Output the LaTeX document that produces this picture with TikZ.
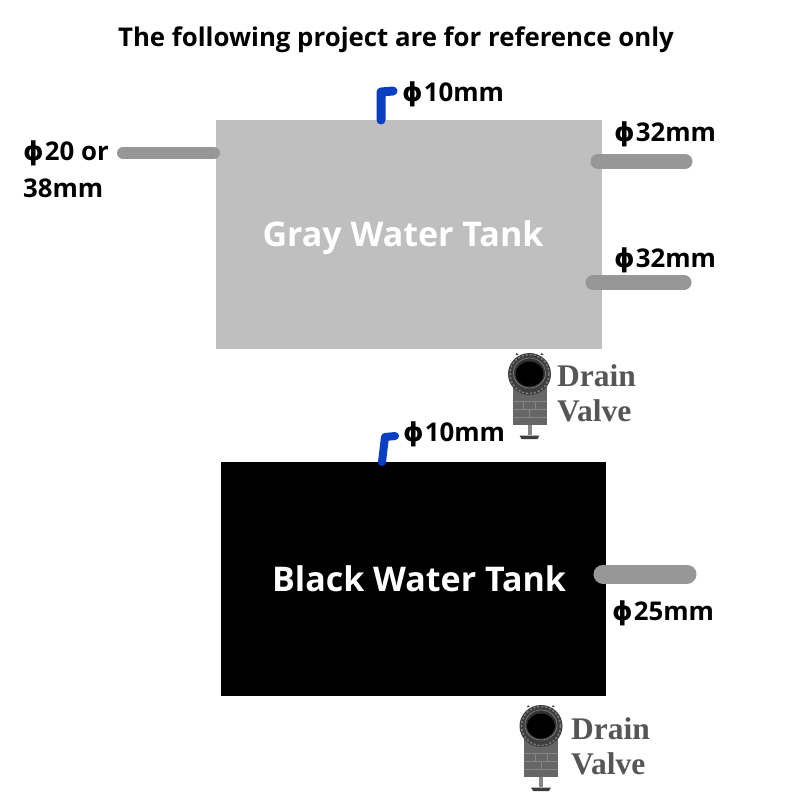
\documentclass[tikz,border=0pt]{standalone}
\usepackage{fontspec}
\setmainfont{Open Sans}
\newfontfamily\serifb{Liberation Serif}
\newfontfamily\phifont{DejaVu Sans}
\newcommand{\phisym}{{\phifont\bfseries\fontsize{26}{30}\selectfont ϕ}\hspace{1pt}}
\tikzset{
  x=1pt,y=-1pt,
  tank/.style={draw=none,minimum width=0pt,anchor=north west,inner sep=0pt},
  lbl/.style={font=\fontsize{25.8}{30}\selectfont\bfseries,text=black,inner sep=0pt},
  tanktxt/.style={font=\fontsize{34}{38}\selectfont\bfseries,text=white,inner sep=0pt},
  dlbl/.style={font=\fontsize{31.5}{35}\serifb\bfseries\selectfont,text=drain,inner sep=0pt,anchor=west},
  thick pipe/.style={line cap=round,draw=pipegray,line width=15pt},
  thin pipe/.style={line cap=round,draw=pipegray,line width=12pt},
  blue pipe/.style={line cap=round,line join=round,draw=pipeblue,line width=9pt},
  pics/valve/.style={code={
    \fill[valvebody] (-17,14) rectangle (17,52);
    \foreach \y in {28,36,44}{\draw[valveline,line width=0.7pt] (-17,\y) -- (17,\y);}
    \draw[valveline,line width=0.7pt] (-6,28) -- (-6,36) (6,28) -- (6,36) (0,36) -- (0,44);
    \fill[valveline] (-2,52) rectangle (2,62);
    \fill[valvedark] (-10,62.5) -- (10,62.5) -- (8,66) -- (-8,66) -- cycle;
    \fill[valvedark] (-14,-18) -- (-13,-20) -- (-11,-18) -- cycle;
    \fill[valvedark] (11,-18) -- (12,-20) -- (14,-18) -- cycle;
    \fill[valvedark] (0,1) ellipse [x radius=21.5,y radius=21];
    \draw[valvering,line width=1.5pt,dash pattern=on 2pt off 2pt] (0,1) circle (19.5);
    \fill[black!80] (0,0) ellipse [x radius=16,y radius=15];
    \draw[valvering,line width=0.7pt] (0,0) ellipse [x radius=16,y radius=15];
    \fill[black] (0,1) ellipse [x radius=14,y radius=12.5];
  }}
}
\definecolor{graytank}{HTML}{BFBFBF}
\definecolor{pipegray}{HTML}{979797}
\definecolor{pipeblue}{HTML}{0A3FC4}
\definecolor{drain}{HTML}{565656}
\definecolor{valvebody}{HTML}{666666}
\definecolor{valveline}{HTML}{868686}
\definecolor{valvedark}{HTML}{3E3E3E}
\definecolor{valvering}{HTML}{7C7C7C}
\begin{document}
\begin{tikzpicture}
\useasboundingbox (0,0) rectangle (800,800);
\fill[white] (0,0) rectangle (800,800);
% tanks
\node[tank,fill=graytank,minimum width=386pt,minimum height=229pt] (gray) at (215.5,119.5) {};
\node[tank,fill=black,minimum width=385pt,minimum height=234pt] (black) at (220.5,461.5) {};
% pipe ends
\coordinate (g1) at (123,153);
\coordinate (g1t) at (214,153);
\coordinate (g2) at (598,161.5);
\coordinate (g2e) at (685,161.5);
\coordinate (g3) at (593,282.5);
\coordinate (g3e) at (684,282.5);
\coordinate (b1) at (603,574);
\coordinate (b1e) at (687,574);
\draw[thin pipe] (g1) -- (g1t);
\draw[thick pipe] (g2) -- (g2e);
\draw[thick pipe] (g3) -- (g3e);
\draw[line cap=round,draw=pipegray,line width=19pt] (b1) -- (b1e);
% blue pipes
\coordinate (u1) at (381,120);
\coordinate (u2) at (381,92);
\coordinate (u3) at (393,91);
\draw[blue pipe] (u1) -- (u2) -- (u3);
\coordinate (l1) at (382,462);
\coordinate (l2) at (385,437);
\coordinate (l3) at (395,436);
\draw[blue pipe,line width=8pt] (l1) -- (l2) -- (l3);
% texts
\node[font=\fontsize{25.8}{30}\selectfont\bfseries,inner sep=0pt] (title) at (396,39.5) {The following project are for reference only};
\node[tanktxt] (graytxt) at (403,237.5) {Gray Water Tank};
\node[tanktxt] (blacktxt) at (419,578.5) {Black Water Tank};
\node[lbl,anchor=west] (l10a) at (402,94) {\phisym10mm};
\node[lbl,anchor=west] (l10b) at (403,434) {\phisym10mm};
\node[lbl,anchor=west] (l20a) at (23,153) {\phisym20 or};
\node[lbl,anchor=west] (l20b) at (23,188) {38mm};
\node[lbl,anchor=west] (l32a) at (614,134) {\phisym32mm};
\node[lbl,anchor=west] (l32b) at (614,260) {\phisym32mm};
\node[lbl,anchor=west] (l25) at (612,613) {\phisym25mm};
% valves
\pic at (529.5,373) {valve};
\pic at (541,725) {valve};
\node[dlbl] (d1a) at (557,376) {Drain};
\node[dlbl] (d1b) at (557,411) {Valve};
\node[dlbl] (d2a) at (571,729) {Drain};
\node[dlbl] (d2b) at (571,764) {Valve};
\end{tikzpicture}
\end{document}
